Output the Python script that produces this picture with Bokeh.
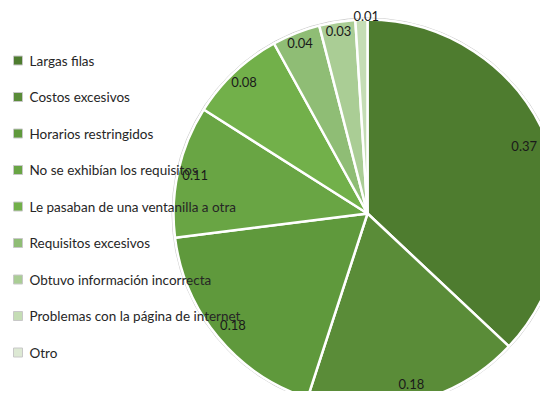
import math
from bokeh.plotting import figure
from bokeh.models import Range1d, ColumnDataSource
from bokeh.core.properties import value
from bokeh.embed import file_html
from bokeh.resources import INLINE

categories = ["Largas filas", "Costos excesivos", "Horarios restringidos",
              "No se exhibían los requisitos", "Le pasaban de una ventanilla a otra",
              "Requisitos excesivos", "Obtuvo información incorrecta",
              "Problemas con la página de internet", "Otro"]
shares = [0.37, 0.18, 0.18, 0.11, 0.08, 0.04, 0.03, 0.01, 0.0]
colors = ["#4e7c2f", "#5a8c38", "#5f993c", "#69a544", "#72b04a",
          "#8fbd75", "#aacd95", "#c5ddb5", "#dde9d4"]

W, H = 540, 391
p = figure(width=W, height=H, output_backend="svg", toolbar_location=None,
           x_range=Range1d(0, W), y_range=Range1d(0, H), min_border=0)
p.axis.visible = False
p.grid.visible = False
p.outline_line_color = None
p.background_fill_color = "white"

cx, cy, R = 367, H - 213, 194
total = sum(shares)
starts, ends, mids, cols = [], [], [], []
acc = 0.0
for s, c in zip(shares, colors):
    a0 = math.pi / 2 - 2 * math.pi * acc / total
    acc += s
    a1 = math.pi / 2 - 2 * math.pi * acc / total
    mids.append((a0 + a1) / 2)
    if s > 0:
        starts.append(a0); ends.append(a1); cols.append(c)

# outer faint outline
p.circle(x=[cx], y=[cy], radius=R + 1.5, fill_color=None, line_color="#d0d0d0", line_width=1)

src = ColumnDataSource(dict(start=starts, end=ends, color=cols))
p.wedge(x=cx, y=cy, radius=R, start_angle="start", end_angle="end", direction="clock",
        fill_color="color", line_color="white", line_width=2.5, source=src)

# data labels
label_r = [0.88, 0.91, 0.90, 0.91, 0.93, 0.945, 0.955, 1.02]
lx, ly, lt = [], [], []
for i, s in enumerate(shares):
    if s <= 0:
        continue
    r = R * label_r[i]
    lx.append(cx + r * math.cos(mids[i]) + (5 if i == 7 else 0))
    ly.append(cy + r * math.sin(mids[i]))
    lt.append(f"{s:.2f}")
p.text(x=lx, y=ly, text=lt, text_align="center", text_baseline="middle",
       text_font=value("Lato"), text_font_size="13px",
       text_color="#1a1a1a")

# legend
ys = [H - 60 - i * 36.5 for i in range(len(categories))]
p.scatter(x=[17.5] * len(categories), y=ys, marker="square", size=9,
          fill_color=colors, line_color="#c8c8c8", line_width=1)
p.text(x=[29] * len(categories), y=ys, text=categories, text_align="left",
       text_baseline="middle", text_font=value("Lato"), text_font_size="13.5px",
       text_color="#262626")

open("out.html", "w").write(file_html(p, INLINE))
